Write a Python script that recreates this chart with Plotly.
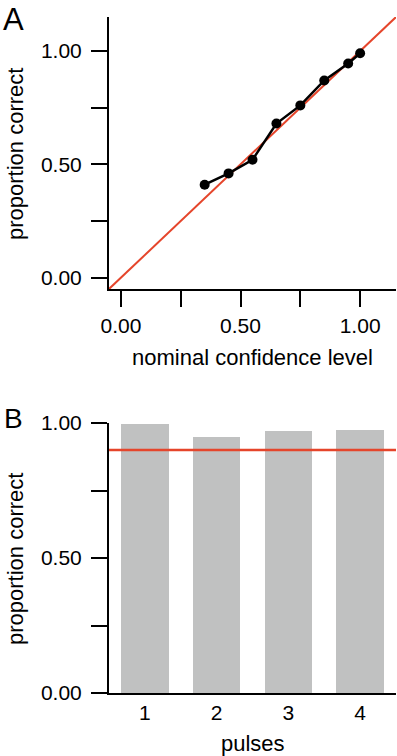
import plotly.graph_objects as go

# ---- Panel A data ----
nominal_conf = [0.35, 0.45, 0.55, 0.65, 0.75, 0.85, 0.95, 1.00]
prop_correct_a = [0.41, 0.46, 0.52, 0.68, 0.76, 0.87, 0.945, 0.99]
diag_ends = [-0.05, 1.15]
a_tickvals = [0, 0.25, 0.5, 0.75, 1.0]
a_ticktext = ["0.00", "", "0.50", "", "1.00"]

# ---- Panel B data ----
pulses = [1, 2, 3, 4]
prop_correct_b = [0.995, 0.95, 0.97, 0.973]
nominal_level_b = 0.90
b_ytickvals = [0, 0.25, 0.5, 0.75, 1.0]
b_yticktext = ["0.00", "", "0.50", "", "1.00"]

RED = "#E5452B"
GRAY = "#C0C1C1"
FONT = "Liberation Sans, Arial, Helvetica, sans-serif"
W, H = 397, 756

fig = go.Figure()

# Panel A
fig.add_trace(go.Scatter(x=diag_ends, y=diag_ends, mode="lines",
                         line=dict(color=RED, width=2), xaxis="x", yaxis="y",
                         showlegend=False, hoverinfo="skip"))
fig.add_trace(go.Scatter(x=nominal_conf, y=prop_correct_a, mode="lines+markers",
                         line=dict(color="black", width=2.5),
                         marker=dict(color="black", size=10),
                         xaxis="x", yaxis="y", showlegend=False))

# Panel B
fig.add_trace(go.Bar(x=pulses, y=prop_correct_b, marker=dict(color=GRAY, line=dict(width=0)),
                     width=0.66, xaxis="x2", yaxis="y2", showlegend=False))
fig.add_shape(type="line", xref="x2 domain", yref="y2", x0=0, x1=1,
              y0=nominal_level_b, y1=nominal_level_b, line=dict(color=RED, width=2.5))

axis_common = dict(showgrid=False, zeroline=False, showline=True, linecolor="black",
                   linewidth=2, tickcolor="black", tickwidth=2, automargin=False,
                   tickfont=dict(family=FONT, size=21, color="black"))

def px_x(p):
    return p / W

def px_y(p):
    return 1 - p / H

fig.update_layout(
    width=W, height=H,
    margin=dict(l=0, r=0, t=0, b=0, autoexpand=False),
    paper_bgcolor="white", plot_bgcolor="white",
    font=dict(family=FONT, color="black"),
    bargap=0,
    xaxis=dict(domain=[px_x(109), px_x(396)], range=[-0.05, 1.15], anchor="y",
               tickvals=a_tickvals, ticktext=a_ticktext, ticks="outside", ticklen=16,
               ticklabelstandoff=1, **axis_common),
    yaxis=dict(domain=[px_y(289), px_y(17)], range=[-0.05, 1.15], anchor="x",
               tickvals=a_tickvals, ticktext=a_ticktext, ticks="outside", ticklen=16,
               ticklabelstandoff=5, **axis_common),
    xaxis2=dict(domain=[px_x(109), px_x(396)], range=[0.5, 4.5], anchor="y2",
                tickvals=pulses, ticktext=[str(p) for p in pulses], ticks="",
                ticklabelstandoff=0, **axis_common),
    yaxis2=dict(domain=[px_y(693), px_y(423)], range=[0, 1.0], anchor="x2",
                tickvals=b_ytickvals, ticktext=b_yticktext, ticks="outside", ticklen=16,
                ticklabelstandoff=5, **axis_common),
)

title_font = dict(family=FONT, size=22, color="black")
annotations = [
    dict(text="nominal confidence level", x=px_x(252.5), y=px_y(358), xref="paper", yref="paper",
         showarrow=False, xanchor="center", yanchor="middle", font=title_font),
    dict(text="proportion correct", x=px_x(15), y=px_y(154), xref="paper", yref="paper",
         showarrow=False, xanchor="center", yanchor="middle", textangle=-90, font=title_font),
    dict(text="pulses", x=px_x(252.5), y=px_y(743), xref="paper", yref="paper",
         showarrow=False, xanchor="center", yanchor="middle", font=title_font),
    dict(text="proportion correct", x=px_x(15), y=px_y(559), xref="paper", yref="paper",
         showarrow=False, xanchor="center", yanchor="middle", textangle=-90, font=title_font),
    dict(text="A", x=px_x(13.5), y=px_y(0.5), xref="paper", yref="paper",
         showarrow=False, xanchor="center", yanchor="top", borderpad=0,
         font=dict(family=FONT, size=31, color="black")),
    dict(text="B", x=px_x(13), y=px_y(418), xref="paper", yref="paper",
         showarrow=False, xanchor="center", yanchor="middle", font=dict(family=FONT, size=28, color="black")),
]
fig.update_layout(annotations=annotations)

fig.write_html("out.html", config={"displayModeBar": False},
               post_script="document.body.style.margin='0px';document.body.style.overflow='hidden';")
